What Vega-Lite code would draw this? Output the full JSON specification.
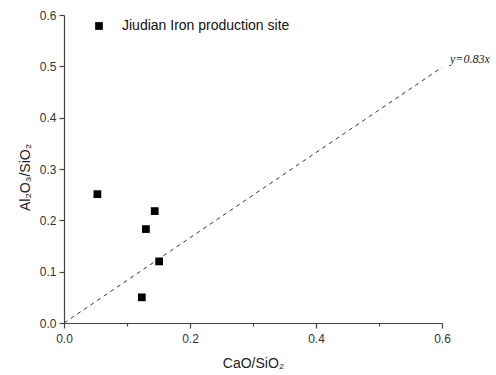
{
  "$schema": "https://vega.github.io/schema/vega-lite/v6.json",
  "autosize": "none",
  "width": 378,
  "height": 308,
  "padding": {"left": 64, "top": 15, "right": 54, "bottom": 52},
  "background": "white",
  "config": {
    "view": {"stroke": null},
    "font": "Liberation Sans",
    "axis": {
      "domainColor": "#444",
      "tickColor": "#444",
      "labelColor": "#333",
      "titleColor": "#222",
      "labelFont": "Liberation Sans",
      "titleFont": "Liberation Sans",
      "labelFontSize": 12,
      "titleFontSize": 14,
      "titleFontWeight": "normal",
      "grid": false,
      "labelFlush": false,
      "domainWidth": 1.2,
      "tickWidth": 1.2
    }
  },
  "datasets": {
    "pts": [
      {"x": 0.053, "y": 0.251, "series": "Jiudian Iron production site"},
      {"x": 0.144, "y": 0.218, "series": "Jiudian Iron production site"},
      {"x": 0.130, "y": 0.183, "series": "Jiudian Iron production site"},
      {"x": 0.151, "y": 0.120, "series": "Jiudian Iron production site"},
      {"x": 0.1235, "y": 0.050, "series": "Jiudian Iron production site"}
    ],
    "fit": [
      {"x": 0, "y": 0},
      {"x": 0.6, "y": 0.498}
    ],
    "lab": [
      {"x": 0.6, "y": 0.498, "label": "y=0.83x"}
    ]
  },
  "layer": [
    {
      "data": {"name": "fit"},
      "mark": {"type": "line", "color": "#333", "strokeDash": [4, 4], "strokeWidth": 1},
      "encoding": {
        "x": {"field": "x", "type": "quantitative", "scale": {"domain": [0, 0.6], "nice": false},
          "axis": {
            "title": "CaO/SiO₂",
            "values": [0, 0.1, 0.2, 0.3, 0.4, 0.5, 0.6],
            "labelExpr": "(round(datum.value*10) % 2 == 0) ? format(datum.value, '.1f') : ''",
            "tickSize": {"condition": {"test": "round(datum.value*10) % 2 == 1", "value": 3}, "value": 5},
            "titlePadding": 12,
            "labelPadding": 5
          }},
        "y": {"field": "y", "type": "quantitative", "scale": {"domain": [0, 0.6], "nice": false},
          "axis": {
            "title": "Al₂O₃/SiO₂",
            "values": [0, 0.05, 0.1, 0.15, 0.2, 0.25, 0.3, 0.35, 0.4, 0.45, 0.5, 0.55, 0.6],
            "labelExpr": "(round(datum.value*100) % 10 == 0) ? format(datum.value, '.1f') : ''",
            "tickSize": {"condition": {"test": "round(datum.value*100) % 10 == 5", "value": 3}, "value": 5},
            "titlePadding": 7,
            "titleY": 162,
            "labelPadding": 3
          }}
      }
    },
    {
      "data": {"name": "pts"},
      "mark": {"type": "point", "shape": "square", "filled": true, "size": 60, "opacity": 1},
      "encoding": {
        "x": {"field": "x", "type": "quantitative"},
        "y": {"field": "y", "type": "quantitative"},
        "color": {"field": "series", "type": "nominal", "scale": {"range": ["black"]},
          "legend": {"title": null, "orient": "none", "legendX": 28, "legendY": 4, "labelFontSize": 14, "labelLimit": 400, "labelFont": "Liberation Sans", "labelColor": "#111", "symbolSize": 60, "symbolType": "square", "labelOffset": 16}}
      }
    },
    {
      "data": {"name": "lab"},
      "mark": {"type": "text", "font": "Liberation Serif", "fontStyle": "italic", "fontSize": 12, "align": "left", "baseline": "middle", "dx": 8, "dy": -8, "color": "#222"},
      "encoding": {
        "x": {"field": "x", "type": "quantitative"},
        "y": {"field": "y", "type": "quantitative"},
        "text": {"field": "label"}
      }
    }
  ]
}
